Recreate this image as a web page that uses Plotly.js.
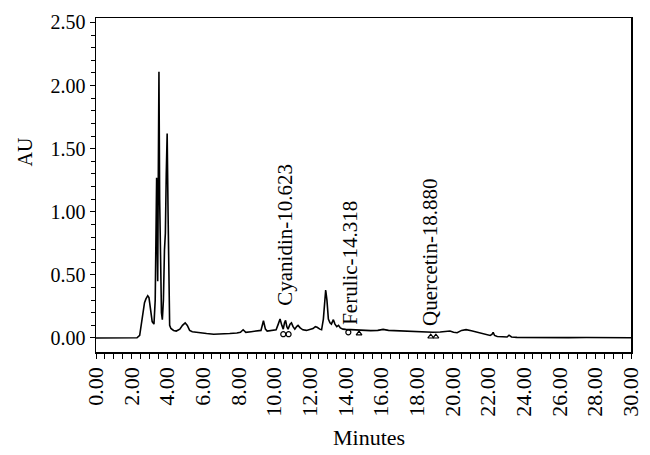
<!DOCTYPE html>
<html>
<head>
<meta charset="utf-8">
<script src="https://cdn.plot.ly/plotly-3.0.1.min.js"></script>
<style>html,body{margin:0;padding:0;background:#fff;}#chart{width:650px;height:455px;}</style>
</head>
<body>
<div id="chart"></div>
<script>
// Chromatogram
const timeMin = [0,2.0,2.3,2.45,2.55,2.65,2.72,2.8,2.9,2.97,3.05,3.15,3.25,3.32,3.37,3.40,3.43,3.46,3.49,3.53,3.57,3.62,3.67,3.72,3.78,3.84,3.89,3.94,3.99,4.04,4.08,4.13,4.2,4.35,4.5,4.7,4.85,5.0,5.12,5.25,5.4,5.6,5.9,6.2,6.6,7.0,7.5,7.9,8.1,8.25,8.4,8.7,9.0,9.25,9.39,9.5,9.6,9.9,10.1,10.22,10.32,10.42,10.5,10.57,10.63,10.7,10.77,10.88,10.96,11.05,11.15,11.25,11.33,11.45,11.6,11.8,12.0,12.17,12.3,12.4,12.55,12.65,12.75,12.83,12.88,12.95,13.03,13.12,13.2,13.31,13.4,13.5,13.6,13.7,13.85,14.0,14.32,14.6,15.0,15.4,15.8,16.1,16.4,16.8,17.2,17.6,18.0,18.4,18.88,19.3,19.6,19.85,20.05,20.25,20.5,20.75,21.05,21.3,21.55,21.85,22.1,22.2,22.27,22.35,22.5,22.8,23.05,23.16,23.3,23.6,24.5,25.5,26.5,27.5,28.3,29.0,30.0];
const absorbance = [0,0,0.002,0.02,0.12,0.25,0.28,0.31,0.335,0.32,0.22,0.13,0.11,0.3,0.9,1.27,0.8,0.45,1.2,2.11,1.1,0.45,0.2,0.145,0.3,0.7,0.83,1.3,1.62,1.0,0.35,0.1,0.075,0.06,0.055,0.07,0.1,0.12,0.1,0.06,0.05,0.045,0.042,0.035,0.03,0.03,0.035,0.04,0.045,0.065,0.045,0.05,0.055,0.06,0.137,0.07,0.055,0.06,0.065,0.11,0.15,0.1,0.07,0.12,0.14,0.09,0.07,0.11,0.12,0.09,0.07,0.09,0.10,0.08,0.065,0.06,0.07,0.075,0.09,0.085,0.07,0.065,0.15,0.33,0.38,0.3,0.15,0.12,0.11,0.145,0.11,0.09,0.1,0.08,0.07,0.068,0.065,0.062,0.06,0.058,0.06,0.068,0.06,0.058,0.052,0.055,0.05,0.048,0.045,0.048,0.05,0.055,0.045,0.042,0.06,0.066,0.058,0.05,0.04,0.03,0.02,0.028,0.045,0.02,0.012,0.01,0.008,0.022,0.008,0.005,0.003,0.004,0.003,0.004,0.005,0.003,0.002];

// Integration markers
const circleT = [10.5,10.8,14.15];
const circleAU = [0.03,0.03,0.045];
const triT = [14.75,18.77,19.06];
const triAU = [0.035,0.01,0.01];

// Peak labels
const peakNames = ["Cyanidin-10.623","Ferulic-14.318","Quercetin-18.880"];
const peakT = [10.6,14.2,18.73];
const peakLabelAU = [0.24,0.09,0.08];

const xTickVals = [0,2,4,6,8,10,12,14,16,18,20,22,24,26,28,30];
const xTickText = xTickVals.map(v => v.toFixed(2));
const yTickVals = [0,0.5,1,1.5,2,2.5];
const yTickText = yTickVals.map(v => v.toFixed(2));

const serif = "Liberation Serif, Times New Roman, serif";

const traces = [
  {x: timeMin, y: absorbance, type: "scatter", mode: "lines",
   line: {color: "#000", width: 1.6}, hoverinfo: "skip"},
  {x: circleT, y: circleAU, type: "scatter", mode: "markers",
   marker: {symbol: "circle-open", size: 5, color: "#000", line: {width: 1.2}}},
  {x: triT, y: triAU, type: "scatter", mode: "markers",
   marker: {symbol: "triangle-up-open", size: 5, color: "#000", line: {width: 1.2}}}
];

const annotations = peakNames.map((n, i) => ({
  x: peakT[i], y: peakLabelAU[i], xref: "x", yref: "y",
  text: n, showarrow: false, textangle: -90,
  xanchor: "center", yanchor: "bottom",
  font: {family: serif, size: 21, color: "#000"}
}));
annotations.push({
  xref: "paper", yref: "paper", x: -0.133, y: 0.6, text: "AU",
  showarrow: false, textangle: -90, xanchor: "center", yanchor: "middle",
  font: {family: serif, size: 20, color: "#000"}
});
annotations.push({
  xref: "paper", yref: "paper", x: 0.51, y: -0.255, text: "Minutes",
  showarrow: false, xanchor: "center", yanchor: "middle",
  font: {family: serif, size: 22, color: "#000"}
});

const layout = {
  width: 650, height: 455,
  margin: {l: 96, r: 19, t: 18, b: 103},
  paper_bgcolor: "#fff", plot_bgcolor: "#fff",
  showlegend: false,
  font: {family: serif, color: "#000"},
  xaxis: {
    range: [0, 30], tickvals: xTickVals, ticktext: xTickText, tickangle: -90,
    ticks: "outside", ticklen: 5, tickwidth: 1, tickcolor: "#000",
    minor: {dtick: 0.5, ticks: "outside", ticklen: 5, tickwidth: 1, tickcolor: "#000"},
    showline: true, linecolor: "#000", linewidth: 1.5, mirror: true,
    showgrid: false, zeroline: false,
    tickfont: {family: serif, size: 22, color: "#000"}
  },
  yaxis: {
    range: [-0.111, 2.535], tickvals: yTickVals, ticktext: yTickText,
    ticks: "outside", ticklen: 5, tickwidth: 1, tickcolor: "#000",
    minor: {tickvals: [0.1,0.2,0.3,0.4,0.6,0.7,0.8,0.9,1.1,1.2,1.3,1.4,1.6,1.7,1.8,1.9,2.1,2.2,2.3,2.4], ticks: "outside", ticklen: 4, tickwidth: 1, tickcolor: "#000"},
    showline: true, linecolor: "#000", linewidth: 1.5, mirror: true,
    showgrid: false, zeroline: false,
    tickfont: {family: serif, size: 20, color: "#000"}
  },
  annotations: annotations
};

Plotly.newPlot("chart", traces, layout, {displayModeBar: false, staticPlot: true});
</script>
</body>
</html>
